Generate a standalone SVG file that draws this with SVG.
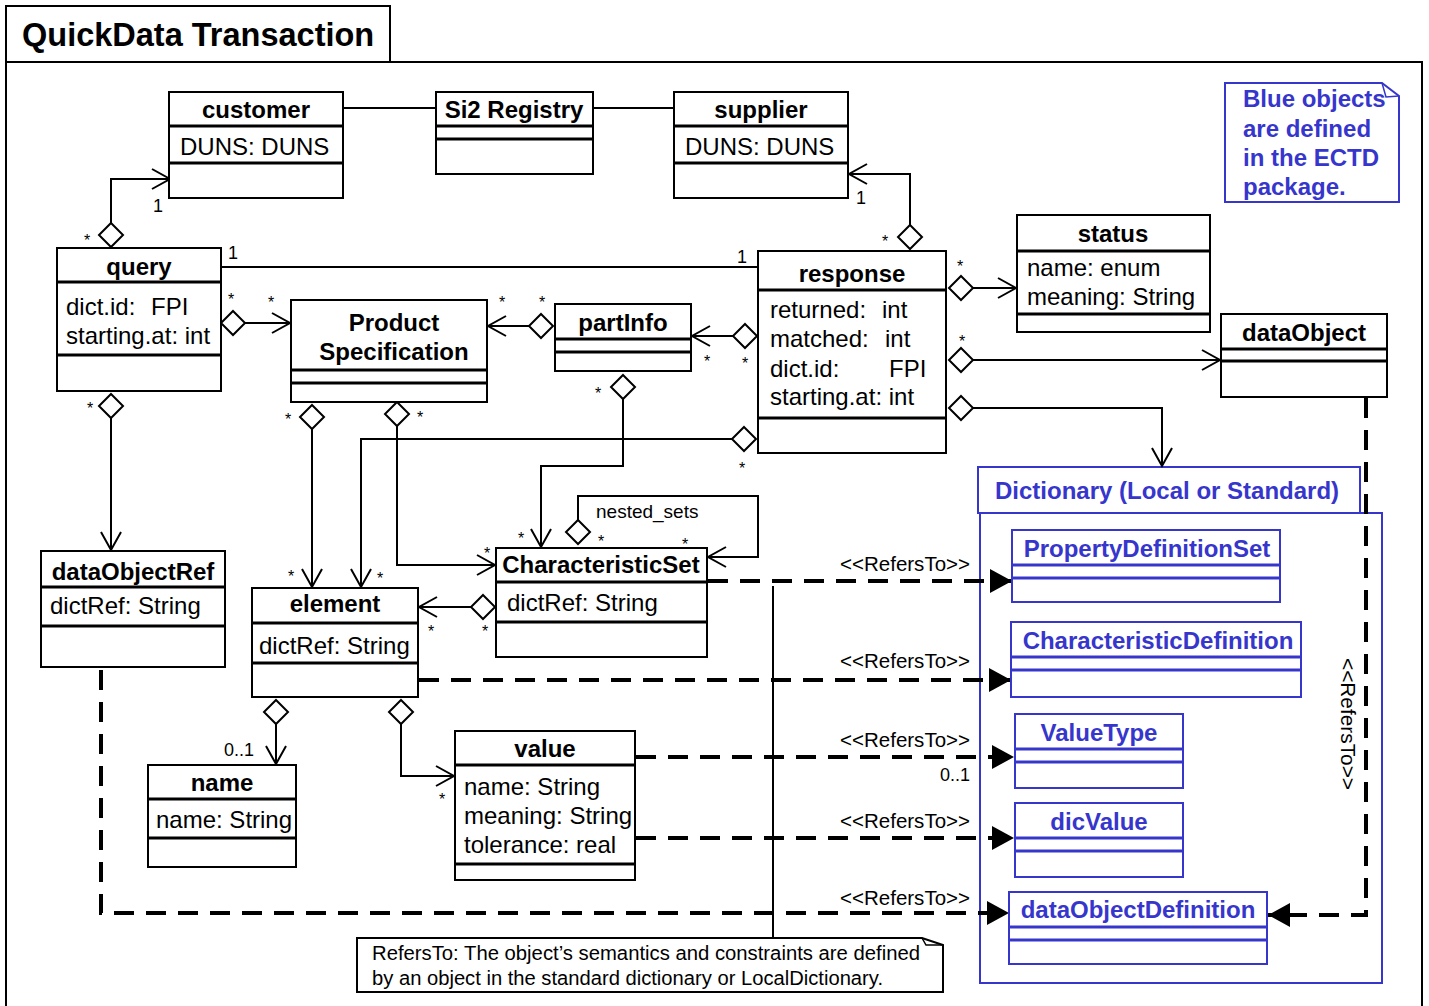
<svg xmlns="http://www.w3.org/2000/svg" width="1429" height="1006" viewBox="0 0 1429 1006">
<style>
.box{fill:#fff;stroke:#000;stroke-width:2}
.sep{stroke:#000;stroke-width:3}
.bbox{fill:#fff;stroke:#3636cc;stroke-width:2}
.bsep{stroke:#3636cc;stroke-width:3}
text{font-family:"Liberation Sans",Arial,sans-serif}
.nm{font-size:24px;font-weight:bold;text-anchor:middle}
.at{font-size:24px}
.bl{fill:#3636cc;font-size:24px;font-weight:bold}
.bn{fill:#3636cc;font-size:24px;font-weight:bold;text-anchor:middle}
.con{fill:none;stroke:#000;stroke-width:2}
.dash{fill:none;stroke:#000;stroke-width:4;stroke-dasharray:20 12}
.st{font-size:16px}
.mu{font-size:18px}
.rf{font-size:20px}
.dia{fill:#fff;stroke:#000;stroke-width:2}
</style>
<defs>
<marker id="open" markerUnits="userSpaceOnUse" markerWidth="22" markerHeight="24" refX="19" refY="11" orient="auto" viewBox="0 0 22 24">
<path d="M1,1 L19,11 L1,21" fill="none" stroke="#000" stroke-width="2"/>
</marker>
<marker id="tri" markerUnits="userSpaceOnUse" markerWidth="22" markerHeight="24" refX="22" refY="12" orient="auto" viewBox="0 0 22 24">
<path d="M0,0 L22,12 L0,24 Z" fill="#000"/>
</marker>
<polygon id="dm" class="dia" points="0,-12 12,0 0,12 -12,0"/>
</defs>

<g id="frame">
<rect x="6" y="62" width="1416" height="980" fill="#fff" stroke="#000" stroke-width="2"/>
<rect x="6" y="6" width="384" height="56" fill="#fff" stroke="#000" stroke-width="2"/>
<text x="22" y="46" font-size="32.5" font-weight="bold">QuickData Transaction</text>
</g>

<g id="dictionary">
<rect x="980" y="513" width="402" height="470" fill="#fff" stroke="#3636cc" stroke-width="2"/>
<rect x="978" y="467" width="382" height="46" fill="#fff" stroke="#3636cc" stroke-width="2"/>
<text class="bl" x="995" y="499">Dictionary (Local or Standard)</text>
</g>

<g id="connectors">
<path class="con" d="M343,108 H436"/>
<path class="con" d="M593,108 H674"/>
<path class="con" d="M111,223 V179 H170" marker-end="url(#open)"/>
<path class="con" d="M221,267 H758"/>
<path class="con" d="M910,225 V174 H849" marker-end="url(#open)"/>
<path class="con" d="M245,323 H290" marker-end="url(#open)"/>
<path class="con" d="M529,326 H488" marker-end="url(#open)"/>
<path class="con" d="M733,336 H692" marker-end="url(#open)"/>
<path class="con" d="M973,288 H1016" marker-end="url(#open)"/>
<path class="con" d="M973,360 H1220" marker-end="url(#open)"/>
<path class="con" d="M973,408 H1162 V466" marker-end="url(#open)"/>
<path class="con" d="M732,439 H361 V587" marker-end="url(#open)"/>
<path class="con" d="M312,429 V587" marker-end="url(#open)"/>
<path class="con" d="M397,426 V565 H495" marker-end="url(#open)"/>
<path class="con" d="M623,399 V466 H541 V547" marker-end="url(#open)"/>
<path class="con" d="M578,520 V496 H758 V557 H708" marker-end="url(#open)"/>
<path class="con" d="M471,607 H419" marker-end="url(#open)"/>
<path class="con" d="M111,418 V550" marker-end="url(#open)"/>
<path class="con" d="M276,724 V764" marker-end="url(#open)"/>
<path class="con" d="M401,724 V776 H454" marker-end="url(#open)"/>
<use href="#dm" x="111" y="235"/>
<use href="#dm" x="910" y="237"/>
<use href="#dm" x="233" y="323"/>
<use href="#dm" x="541" y="326"/>
<use href="#dm" x="745" y="336"/>
<use href="#dm" x="961" y="288"/>
<use href="#dm" x="961" y="360"/>
<use href="#dm" x="961" y="408"/>
<use href="#dm" x="744" y="439"/>
<use href="#dm" x="312" y="417"/>
<use href="#dm" x="397" y="414"/>
<use href="#dm" x="623" y="387"/>
<use href="#dm" x="578" y="532"/>
<use href="#dm" x="483" y="607"/>
<use href="#dm" x="111" y="406"/>
<use href="#dm" x="276" y="712"/>
<use href="#dm" x="401" y="712"/>
<path class="dash" d="M708,581 H1012" marker-end="url(#tri)"/>
<path class="dash" d="M419,680 H1011" marker-end="url(#tri)"/>
<path class="dash" d="M636,757 H1014" marker-end="url(#tri)"/>
<path class="dash" d="M636,838 H1014" marker-end="url(#tri)"/>
<path class="dash" d="M101,670 V913 H1009" marker-end="url(#tri)"/>
<path class="dash" d="M1366,398 V915 H1268" marker-end="url(#tri)"/>
<path class="con" d="M773,586 V938"/>
<text class="mu" x="153" y="212">1</text>
<text class="st" x="84" y="246">*</text>
<text class="mu" x="228" y="259">1</text>
<text class="mu" x="737" y="263">1</text>
<text class="mu" x="856" y="204">1</text>
<text class="st" x="882" y="247">*</text>
<text class="st" x="228" y="305">*</text>
<text class="st" x="268" y="308">*</text>
<text class="st" x="499" y="308">*</text>
<text class="st" x="539" y="308">*</text>
<text class="st" x="704" y="367">*</text>
<text class="st" x="742" y="369">*</text>
<text class="st" x="957" y="272">*</text>
<text class="st" x="959" y="347">*</text>
<text class="st" x="739" y="474">*</text>
<text class="st" x="377" y="584">*</text>
<text class="st" x="285" y="425">*</text>
<text class="st" x="288" y="582">*</text>
<text class="st" x="417" y="423">*</text>
<text class="st" x="484" y="559">*</text>
<text class="st" x="595" y="399">*</text>
<text class="st" x="518" y="544">*</text>
<text class="st" x="598" y="547">*</text>
<text class="st" x="682" y="550">*</text>
<text class="st" x="428" y="637">*</text>
<text class="st" x="482" y="637">*</text>
<text class="st" x="87" y="414">*</text>
<text class="st" x="439" y="805">*</text>
<text class="mu" x="224" y="756">0..1</text>
<text class="mu" x="940" y="781">0..1</text>
<text x="596" y="518" font-size="19">nested_sets</text>
<text class="rf" x="840" y="571" textLength="130" lengthAdjust="spacingAndGlyphs">&lt;&lt;RefersTo&gt;&gt;</text>
<text class="rf" x="840" y="668" textLength="130" lengthAdjust="spacingAndGlyphs">&lt;&lt;RefersTo&gt;&gt;</text>
<text class="rf" x="840" y="747" textLength="130" lengthAdjust="spacingAndGlyphs">&lt;&lt;RefersTo&gt;&gt;</text>
<text class="rf" x="840" y="828" textLength="130" lengthAdjust="spacingAndGlyphs">&lt;&lt;RefersTo&gt;&gt;</text>
<text class="rf" x="840" y="905" textLength="130" lengthAdjust="spacingAndGlyphs">&lt;&lt;RefersTo&gt;&gt;</text>
<text class="rf" transform="translate(1341,658) rotate(90)" textLength="132" lengthAdjust="spacingAndGlyphs">&lt;&lt;RefersTo&gt;&gt;</text>
</g>

<g id="customer">
<rect class="box" x="169" y="92" width="174" height="106"/>
<line class="sep" x1="169" y1="126" x2="343" y2="126"/>
<line class="sep" x1="169" y1="163" x2="343" y2="163"/>
<text class="nm" x="256" y="118">customer</text>
<text class="at" x="180" y="155">DUNS: DUNS</text>
</g>
<g id="si2registry">
<rect class="box" x="436" y="92" width="157" height="82"/>
<line class="sep" x1="436" y1="126" x2="593" y2="126"/>
<line class="sep" x1="436" y1="139" x2="593" y2="139"/>
<text class="nm" x="514" y="118">Si2 Registry</text>
</g>
<g id="supplier">
<rect class="box" x="674" y="92" width="174" height="106"/>
<line class="sep" x1="674" y1="126" x2="848" y2="126"/>
<line class="sep" x1="674" y1="163" x2="848" y2="163"/>
<text class="nm" x="761" y="118">supplier</text>
<text class="at" x="685" y="155">DUNS: DUNS</text>
</g>
<g id="query">
<rect class="box" x="57" y="248" width="164" height="143"/>
<line class="sep" x1="57" y1="282" x2="221" y2="282"/>
<line class="sep" x1="57" y1="355" x2="221" y2="355"/>
<text class="nm" x="139" y="275">query</text>
<text class="at" x="66" y="315">dict.id:  <tspan x="151">FPI</tspan></text>
<text class="at" x="66" y="344">starting.at: int</text>
</g>
<g id="productspec">
<rect class="box" x="291" y="300" width="196" height="102"/>
<line class="sep" x1="291" y1="370" x2="487" y2="370"/>
<line class="sep" x1="291" y1="383" x2="487" y2="383"/>
<text class="nm" x="394" y="331">Product</text>
<text class="nm" x="394" y="360">Specification</text>
</g>
<g id="partinfo">
<rect class="box" x="555" y="304" width="136" height="67"/>
<line class="sep" x1="555" y1="339" x2="691" y2="339"/>
<line class="sep" x1="555" y1="352" x2="691" y2="352"/>
<text class="nm" x="623" y="331">partInfo</text>
</g>
<g id="response">
<rect class="box" x="758" y="251" width="188" height="202"/>
<line class="sep" x1="758" y1="290" x2="946" y2="290"/>
<line class="sep" x1="758" y1="418" x2="946" y2="418"/>
<text class="nm" x="852" y="282">response</text>
<text class="at" x="770" y="318">returned:<tspan x="882">int</tspan></text>
<text class="at" x="770" y="347">matched:<tspan x="885">int</tspan></text>
<text class="at" x="770" y="377">dict.id:<tspan x="889">FPI</tspan></text>
<text class="at" x="770" y="405">starting.at: int</text>
</g>
<g id="status">
<rect class="box" x="1017" y="215" width="193" height="117"/>
<line class="sep" x1="1017" y1="251" x2="1210" y2="251"/>
<line class="sep" x1="1017" y1="314" x2="1210" y2="314"/>
<text class="nm" x="1113" y="242">status</text>
<text class="at" x="1027" y="276">name: enum</text>
<text class="at" x="1027" y="305">meaning: String</text>
</g>
<g id="dataobject">
<rect class="box" x="1221" y="314" width="166" height="83"/>
<line class="sep" x1="1221" y1="349" x2="1387" y2="349"/>
<line class="sep" x1="1221" y1="361" x2="1387" y2="361"/>
<text class="nm" x="1304" y="341">dataObject</text>
</g>
<g id="note-blue">
<path d="M1225,83 H1382 L1399,96 V202 H1225 Z" fill="#fff" stroke="#3636cc" stroke-width="2"/>
<path d="M1382,83 L1386,97 L1399,96" fill="none" stroke="#3636cc" stroke-width="1.5"/>
<text class="bl" x="1243" y="107">Blue objects</text>
<text class="bl" x="1243" y="137">are defined</text>
<text class="bl" x="1243" y="166">in the ECTD</text>
<text class="bl" x="1243" y="195">package.</text>
</g>
<g id="dataobjectref">
<rect class="box" x="41" y="551" width="184" height="116"/>
<line class="sep" x1="41" y1="587" x2="225" y2="587"/>
<line class="sep" x1="41" y1="626" x2="225" y2="626"/>
<text class="nm" x="133" y="580">dataObjectRef</text>
<text class="at" x="50" y="614">dictRef: String</text>
</g>
<g id="element">
<rect class="box" x="252" y="588" width="166" height="109"/>
<line class="sep" x1="252" y1="623" x2="418" y2="623"/>
<line class="sep" x1="252" y1="663" x2="418" y2="663"/>
<text class="nm" x="335" y="612">element</text>
<text class="at" x="259" y="654">dictRef: String</text>
</g>
<g id="characteristicset">
<rect class="box" x="496" y="548" width="211" height="109"/>
<line class="sep" x1="496" y1="582" x2="707" y2="582"/>
<line class="sep" x1="496" y1="622" x2="707" y2="622"/>
<text class="nm" x="601" y="573">CharacteristicSet</text>
<text class="at" x="507" y="611">dictRef: String</text>
</g>
<g id="name">
<rect class="box" x="148" y="765" width="148" height="102"/>
<line class="sep" x1="148" y1="799" x2="296" y2="799"/>
<line class="sep" x1="148" y1="838" x2="296" y2="838"/>
<text class="nm" x="222" y="791">name</text>
<text class="at" x="156" y="828">name: String</text>
</g>
<g id="value">
<rect class="box" x="455" y="731" width="180" height="149"/>
<line class="sep" x1="455" y1="765" x2="635" y2="765"/>
<line class="sep" x1="455" y1="864" x2="635" y2="864"/>
<text class="nm" x="545" y="757">value</text>
<text class="at" x="464" y="795">name: String</text>
<text class="at" x="464" y="824">meaning: String</text>
<text class="at" x="464" y="853">tolerance: real</text>
</g>
<g id="propertydefinitionset">
<rect class="bbox" x="1012" y="530" width="268" height="72"/>
<line class="bsep" x1="1012" y1="565" x2="1280" y2="565"/>
<line class="bsep" x1="1012" y1="578" x2="1280" y2="578"/>
<text class="bn" x="1147" y="557">PropertyDefinitionSet</text>
</g>
<g id="characteristicdefinition">
<rect class="bbox" x="1011" y="622" width="290" height="75"/>
<line class="bsep" x1="1011" y1="657" x2="1301" y2="657"/>
<line class="bsep" x1="1011" y1="670" x2="1301" y2="670"/>
<text class="bn" x="1158" y="649">CharacteristicDefinition</text>
</g>
<g id="valuetype">
<rect class="bbox" x="1015" y="714" width="168" height="74"/>
<line class="bsep" x1="1015" y1="749" x2="1183" y2="749"/>
<line class="bsep" x1="1015" y1="762" x2="1183" y2="762"/>
<text class="bn" x="1099" y="741">ValueType</text>
</g>
<g id="dicvalue">
<rect class="bbox" x="1015" y="803" width="168" height="74"/>
<line class="bsep" x1="1015" y1="838" x2="1183" y2="838"/>
<line class="bsep" x1="1015" y1="851" x2="1183" y2="851"/>
<text class="bn" x="1099" y="830">dicValue</text>
</g>
<g id="dataobjectdefinition">
<rect class="bbox" x="1009" y="892" width="258" height="72"/>
<line class="bsep" x1="1009" y1="927" x2="1267" y2="927"/>
<line class="bsep" x1="1009" y1="940" x2="1267" y2="940"/>
<text class="bn" x="1138" y="918">dataObjectDefinition</text>
</g>
<g id="note-refersto">
<path d="M357,938 H922 L943,945 V992 H357 Z" fill="#fff" stroke="#000" stroke-width="2"/>
<path d="M922,938 L926,945 L943,945" fill="none" stroke="#000" stroke-width="1.5"/>
<text x="372" y="960" font-size="20" textLength="548" lengthAdjust="spacingAndGlyphs">RefersTo: The object’s semantics and constraints are defined</text>
<text x="372" y="985" font-size="20" textLength="511" lengthAdjust="spacingAndGlyphs">by an object in the standard dictionary or LocalDictionary.</text>
</g>
</svg>
